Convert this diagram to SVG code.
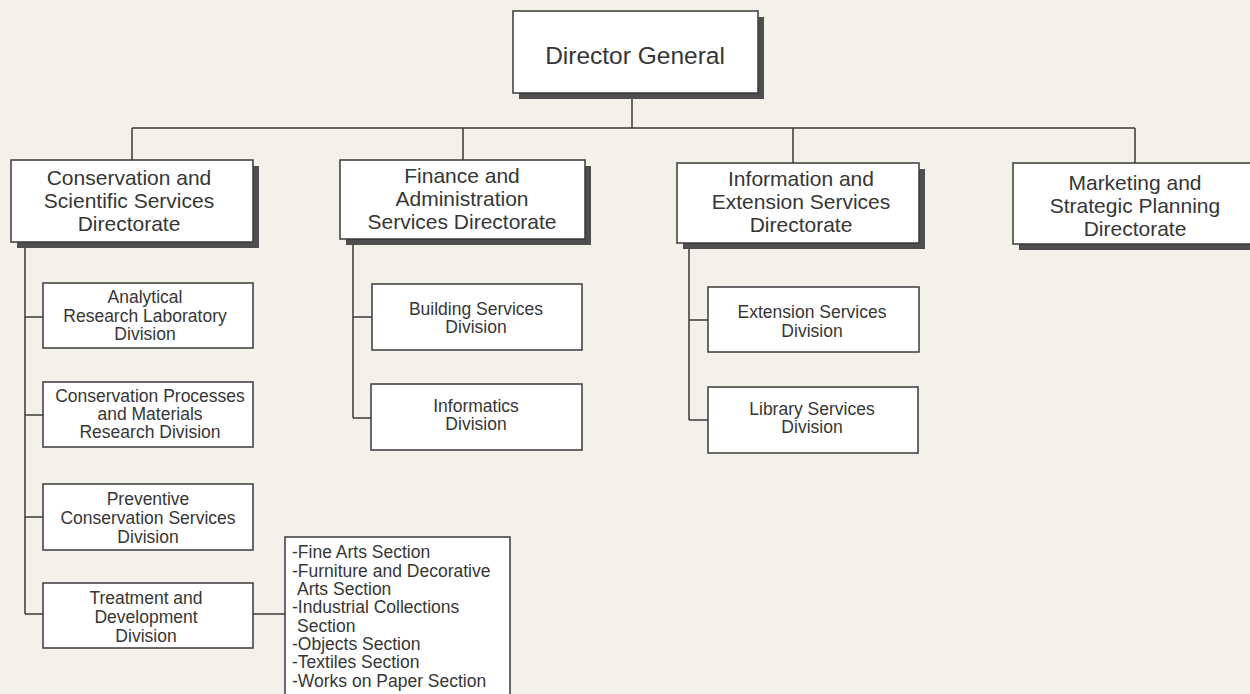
<svg xmlns="http://www.w3.org/2000/svg" width="1250" height="694" viewBox="0 0 1250 694">
<style>
.box{fill:#ffffff;stroke:#3a3a3a;stroke-width:1.5}
.shadow{fill:#4e4e4e}
.ln{fill:none;stroke:#3a3a3a;stroke-width:1.5}
text{font-family:"Liberation Sans",Arial,sans-serif;fill:#363636}
.dg{font-size:24.5px;text-anchor:middle}
.dir{font-size:21px;text-anchor:middle}
.div{font-size:17.5px;text-anchor:middle}
.sec{font-size:17.5px}
</style>
<rect x="0" y="0" width="1250" height="694" fill="#f4f1eb"/>
<g id="connectors">
<path class="ln" d="M632 93 V128 M132 128 H1135 M132 128 V160 M463 128 V160 M793 128 V163 M1135 128 V163"/>
<path class="ln" d="M25 242 V614 M25 317 H43 M25 415 H43 M25 517 H43 M25 614 H43"/>
<path class="ln" d="M353 239 V418 M353 317 H372 M353 418 H371"/>
<path class="ln" d="M689 243 V420 M689 320 H708 M689 420 H708"/>
<path class="ln" d="M253 614 H285"/>
</g>
<g id="director-general">
<rect class="shadow" x="519" y="17" width="245" height="82"/>
<rect class="box" x="513" y="11" width="245" height="82"/>
<text class="dg" x="635" y="64">Director General</text>
</g>
<g id="conservation-directorate">
<rect class="shadow" x="17" y="166" width="242" height="82"/>
<rect class="box" x="11" y="160" width="242" height="82"/>
<text class="dir" x="129" y="185">Conservation and</text>
<text class="dir" x="129" y="208">Scientific Services</text>
<text class="dir" x="129" y="231">Directorate</text>
</g>
<g id="finance-directorate">
<rect class="shadow" x="346" y="166" width="245" height="79"/>
<rect class="box" x="340" y="160" width="245" height="79"/>
<text class="dir" x="462" y="183">Finance and</text>
<text class="dir" x="462" y="206">Administration</text>
<text class="dir" x="462" y="229">Services Directorate</text>
</g>
<g id="information-directorate">
<rect class="shadow" x="683" y="169" width="242" height="80"/>
<rect class="box" x="677" y="163" width="242" height="80"/>
<text class="dir" x="801" y="186">Information and</text>
<text class="dir" x="801" y="209">Extension Services</text>
<text class="dir" x="801" y="232">Directorate</text>
</g>
<g id="marketing-directorate">
<rect class="shadow" x="1019" y="169" width="244" height="81"/>
<rect class="box" x="1013" y="163" width="244" height="81"/>
<text class="dir" x="1135" y="190">Marketing and</text>
<text class="dir" x="1135" y="213">Strategic Planning</text>
<text class="dir" x="1135" y="236">Directorate</text>
</g>
<g id="analytical-division">
<rect class="box" x="43" y="283" width="210" height="65"/>
<text class="div" x="145" y="303">Analytical</text>
<text class="div" x="145" y="322">Research Laboratory</text>
<text class="div" x="145" y="340">Division</text>
</g>
<g id="processes-division">
<rect class="box" x="43" y="382" width="210" height="65"/>
<text class="div" x="150" y="402">Conservation Processes</text>
<text class="div" x="150" y="420">and Materials</text>
<text class="div" x="150" y="438">Research Division</text>
</g>
<g id="preventive-division">
<rect class="box" x="43" y="484" width="210" height="66"/>
<text class="div" x="148" y="505">Preventive</text>
<text class="div" x="148" y="524">Conservation Services</text>
<text class="div" x="148" y="543">Division</text>
</g>
<g id="treatment-division">
<rect class="box" x="43" y="583" width="210" height="65"/>
<text class="div" x="146" y="604">Treatment and</text>
<text class="div" x="146" y="623">Development</text>
<text class="div" x="146" y="642">Division</text>
</g>
<g id="sections">
<rect class="box" x="285" y="537" width="225" height="170"/>
<text class="sec" x="292" y="558">-Fine Arts Section</text>
<text class="sec" x="292" y="577">-Furniture and Decorative</text>
<text class="sec" x="297" y="595">Arts Section</text>
<text class="sec" x="292" y="613">-Industrial Collections</text>
<text class="sec" x="297" y="632">Section</text>
<text class="sec" x="292" y="650">-Objects Section</text>
<text class="sec" x="292" y="668">-Textiles Section</text>
<text class="sec" x="292" y="687">-Works on Paper Section</text>
</g>
<g id="building-division">
<rect class="box" x="372" y="284" width="210" height="66"/>
<text class="div" x="476" y="315">Building Services</text>
<text class="div" x="476" y="333">Division</text>
</g>
<g id="informatics-division">
<rect class="box" x="371" y="384" width="211" height="66"/>
<text class="div" x="476" y="412">Informatics</text>
<text class="div" x="476" y="430">Division</text>
</g>
<g id="extension-division">
<rect class="box" x="708" y="287" width="211" height="65"/>
<text class="div" x="812" y="318">Extension Services</text>
<text class="div" x="812" y="337">Division</text>
</g>
<g id="library-division">
<rect class="box" x="708" y="387" width="210" height="66"/>
<text class="div" x="812" y="415">Library Services</text>
<text class="div" x="812" y="433">Division</text>
</g>
</svg>
